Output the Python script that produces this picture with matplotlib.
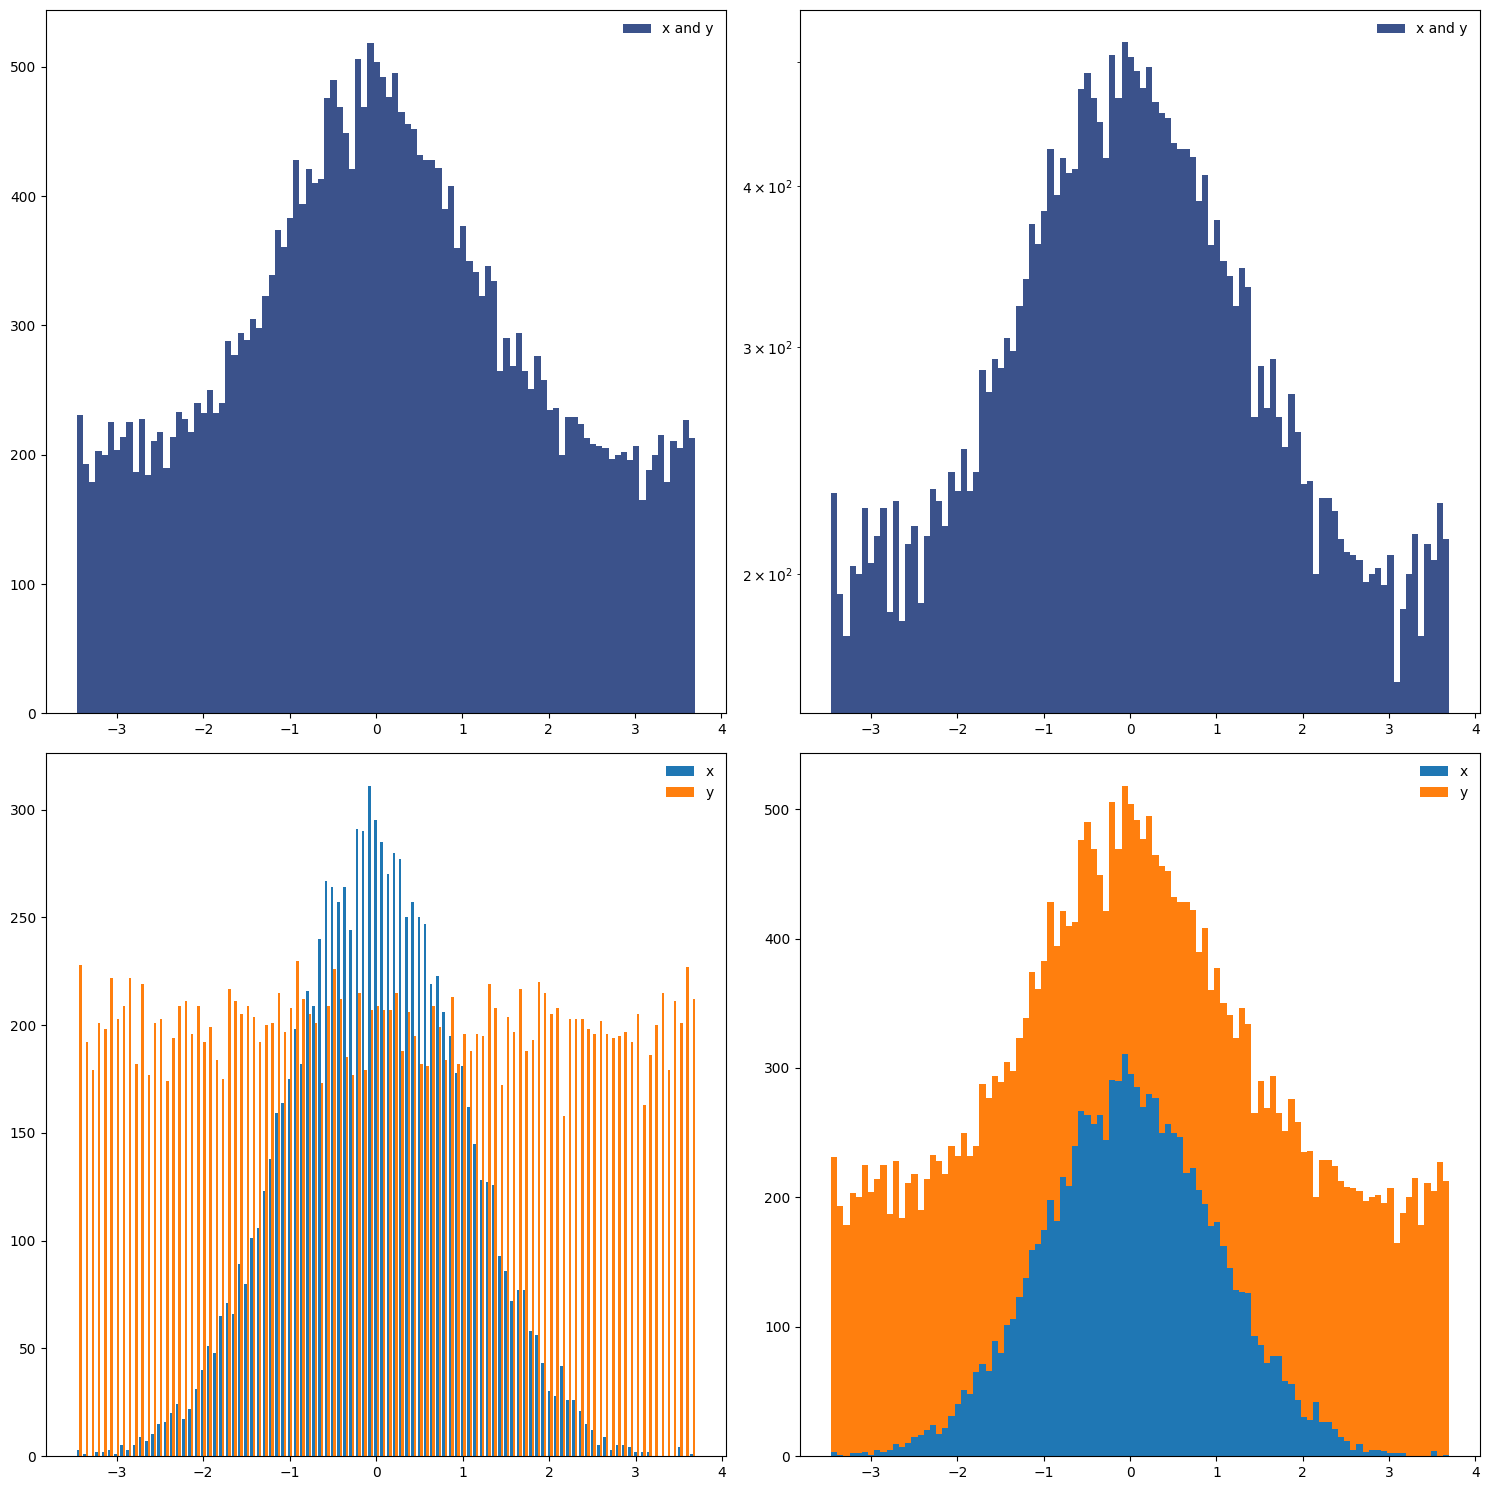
import numpy as np
import matplotlib
matplotlib.use("Agg")
import matplotlib.pyplot as plt

# bin range (100 equal bins)
x_lo = -3.465
x_hi = 3.695
n_bins = 100

# counts per bin of x (normal sample)
x_counts = [3, 1, 0, 2, 2, 3, 1, 5, 3, 5,
            9, 7, 10, 15, 16, 20, 24, 17, 22, 31,
            40, 51, 48, 65, 71, 66, 89, 80, 101, 106,
            123, 138, 159, 164, 175, 198, 182, 216, 209, 240,
            267, 264, 257, 264, 244, 291, 290, 311, 295, 285,
            270, 280, 277, 250, 257, 250, 247, 219, 223, 206,
            195, 178, 181, 162, 145, 128, 127, 126, 93, 86,
            72, 77, 77, 58, 56, 43, 30, 28, 42, 26,
            26, 21, 15, 12, 5, 9, 3, 5, 5, 4,
            2, 2, 2, 0, 0, 0, 0, 4, 0, 1]

# counts per bin of y (uniform sample)
y_counts = [228, 192, 179, 201, 198, 222, 203, 209, 222, 182,
            219, 177, 201, 203, 174, 194, 209, 211, 196, 209,
            192, 199, 184, 175, 217, 211, 205, 209, 204, 192,
            200, 201, 215, 197, 208, 230, 212, 205, 201, 173,
            209, 226, 212, 185, 177, 215, 179, 207, 209, 207,
            207, 215, 188, 206, 195, 182, 181, 209, 199, 184,
            213, 182, 196, 188, 196, 195, 219, 208, 172, 204,
            197, 217, 188, 193, 220, 215, 205, 208, 158, 203,
            203, 203, 198, 196, 202, 196, 194, 195, 197, 192,
            205, 163, 186, 200, 215, 179, 211, 201, 227, 212]

edges = np.linspace(x_lo, x_hi, n_bins + 1)
centers = (edges[:-1] + edges[1:]) / 2
both = np.array(x_counts) + np.array(y_counts)

fig, axes = plt.subplots(2, 2, figsize=(14.89, 14.9), dpi=100)
fig.subplots_adjust(left=0.0309, right=0.994, top=0.9933, bottom=0.0228,
                    wspace=0.109, hspace=0.0555)

ax = axes[0, 0]
ax.hist(centers, bins=edges, weights=both, color="#3b528b", label="x and y")
ax.legend(frameon=False)

ax = axes[0, 1]
ax.hist(centers, bins=edges, weights=both, color="#3b528b", label="x and y")
ax.set_yscale("log")
ax.legend(frameon=False)

ax = axes[1, 0]
ax.hist([centers, centers], bins=edges, weights=[x_counts, y_counts],
        label=["x", "y"])
ax.legend(frameon=False)

ax = axes[1, 1]
ax.hist([centers, centers], bins=edges, weights=[x_counts, y_counts],
        stacked=True, label=["x", "y"])
ax.legend(frameon=False)

fig.savefig("out.png")
